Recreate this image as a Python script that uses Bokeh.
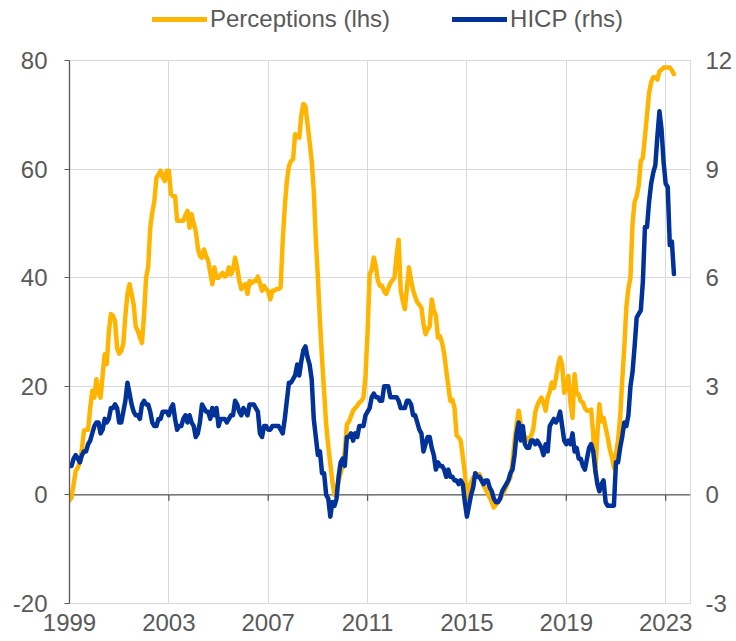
import numpy as np
from bokeh.plotting import figure
from bokeh.layouts import column
from bokeh.models import (ColumnDataSource, Range1d, LinearAxis, FixedTicker,
                          Span, Legend, LegendItem)
from bokeh.embed import file_html
from bokeh.resources import INLINE

# ---------------- data (monthly, Jan 1999 - May 2023) ----------------
start_year = 1999

perceptions = (
    [-1.0, -0.5, 2.0, 4.4, 5.0, 6.0, 8.5, 11.8, 12.0, 12.0, 16.0, 19.2]          # 1999
    + [17.9, 21.3, 19.0, 17.9, 22.0, 25.9, 24.1, 30.0, 33.3, 33.0, 32.0, 27.0]   # 2000
    + [26.0, 26.5, 27.8, 33.0, 37.0, 38.8, 37.0, 35.0, 31.0, 30.2, 29.0, 28.0]   # 2001
    + [33.0, 40.0, 41.9, 49.2, 52.0, 54.1, 58.4, 59.0, 59.7, 58.5, 57.8, 59.7]   # 2002
    + [59.7, 55.4, 55.0, 55.0, 50.5, 50.5, 50.5, 50.5, 51.5, 52.3, 49.2, 51.7]   # 2003
    + [50.0, 48.6, 45.5, 44.0, 43.7, 45.2, 44.0, 43.1, 41.0, 38.8, 41.9, 40.0]   # 2004
    + [40.0, 40.5, 40.9, 40.2, 40.5, 41.9, 40.6, 41.5, 43.7, 41.9, 39.5, 37.9]   # 2005
    + [38.5, 38.8, 37.0, 39.4, 39.0, 39.4, 39.4, 40.2, 39.0, 37.6, 38.5, 37.9]   # 2006
    + [37.5, 36.0, 37.6, 37.6, 37.9, 37.9, 38.2, 46.8, 53.0, 57.8, 60.5, 61.5]   # 2007
    + [61.8, 66.4, 66.0, 65.8, 70.0, 72.0, 71.5, 68.3, 65.0, 61.5, 56.0, 47.0]   # 2008
    + [40.0, 32.0, 25.0, 19.0, 13.0, 9.0, 5.7, 2.5, 0.0, 0.8, 2.6, 4.0]          # 2009
    + [5.5, 8.0, 13.0, 13.5, 14.5, 15.5, 16.0, 16.4, 17.0, 17.3, 17.9, 22.0]     # 2010
    + [30.0, 40.6, 41.5, 43.7, 42.0, 39.4, 38.5, 38.5, 37.5, 37.0, 38.0, 39.0]   # 2011
    + [39.5, 40.0, 44.0, 47.0, 37.7, 35.7, 34.2, 38.0, 41.9, 39.5, 37.7, 36.5]   # 2012
    + [35.5, 35.0, 34.5, 31.5, 29.6, 30.5, 31.0, 36.0, 34.0, 33.0, 29.0, 29.2]   # 2013
    + [28.0, 26.0, 23.0, 20.0, 17.3, 17.5, 16.0, 11.0, 10.6, 10.0, 7.0, 4.0]     # 2014
    + [-0.5, 1.3, 2.3, 3.2, 3.5, 3.8, 3.8, 3.0, 1.8, 1.0, 0.3, -0.5]             # 2015
    + [-1.3, -2.3, -1.8, -1.2, -0.8, 0.0, 0.7, 1.5, 2.5, 3.2, 6.0, 9.9]          # 2016
    + [13.0, 15.5, 13.0, 11.5, 10.6, 10.5, 9.9, 11.0, 12.0, 15.2, 16.5, 17.3]    # 2017
    + [17.9, 17.0, 15.5, 17.9, 19.0, 20.7, 19.7, 21.5, 23.8, 25.3, 24.0, 18.8]   # 2018
    + [20.0, 21.9, 17.0, 14.2, 22.2, 18.6, 18.5, 17.3, 17.0, 16.0, 15.5, 15.5]   # 2019
    + [15.7, 11.2, 4.0, 11.0, 16.7, 13.5, 14.2, 12.4, 10.6, 8.5, 7.0, 5.0]       # 2020
    + [7.5, 10.0, 14.2, 21.0, 27.0, 34.5, 38.0, 40.0, 50.0, 54.0, 55.0, 57.0]    # 2021
    + [61.5, 62.1, 66.0, 70.0, 74.0, 76.0, 76.9, 76.9, 76.5, 78.0, 78.3, 78.7]   # 2022
    + [78.7, 78.7, 78.7, 78.2, 77.5]                                             # 2023
)

hicp = (
    [0.8, 0.8, 1.0, 1.1, 1.0, 0.9, 1.1, 1.2, 1.2, 1.4, 1.5, 1.7]        # 1999
    + [1.9, 2.0, 2.0, 1.7, 1.8, 2.1, 2.0, 2.1, 2.4, 2.4, 2.5, 2.4]      # 2000
    + [2.0, 2.0, 2.3, 2.6, 3.1, 2.8, 2.5, 2.3, 2.2, 2.2, 2.1, 2.5]      # 2001
    + [2.6, 2.5, 2.5, 2.3, 2.0, 1.9, 1.9, 2.1, 2.1, 2.3, 2.3, 2.3]      # 2002
    + [2.2, 2.4, 2.5, 2.1, 1.8, 1.9, 1.9, 2.1, 2.2, 2.0, 2.2, 2.0]      # 2003
    + [1.9, 1.6, 1.7, 2.0, 2.5, 2.4, 2.3, 2.3, 2.1, 2.4, 2.2, 2.4]      # 2004
    + [1.9, 2.1, 2.1, 2.1, 2.0, 2.1, 2.2, 2.2, 2.6, 2.5, 2.3, 2.2]      # 2005
    + [2.4, 2.3, 2.2, 2.5, 2.5, 2.5, 2.4, 2.3, 1.7, 1.6, 1.9, 1.9]      # 2006
    + [1.8, 1.8, 1.9, 1.9, 1.9, 1.9, 1.8, 1.7, 2.1, 2.6, 3.1, 3.1]      # 2007
    + [3.2, 3.3, 3.6, 3.3, 3.7, 4.0, 4.1, 3.8, 3.6, 3.2, 2.1, 1.6]      # 2008
    + [1.1, 1.2, 0.6, 0.6, 0.0, -0.1, -0.6, -0.2, -0.3, -0.1, 0.5, 0.9] # 2009
    + [1.0, 0.8, 1.6, 1.6, 1.7, 1.5, 1.7, 1.6, 1.9, 1.9, 1.9, 2.2]      # 2010
    + [2.3, 2.4, 2.7, 2.8, 2.7, 2.7, 2.6, 2.6, 3.0, 3.0, 3.0, 2.7]      # 2011
    + [2.7, 2.7, 2.7, 2.6, 2.4, 2.4, 2.4, 2.6, 2.6, 2.5, 2.2, 2.2]      # 2012
    + [2.0, 1.8, 1.7, 1.2, 1.4, 1.6, 1.6, 1.3, 1.1, 0.7, 0.9, 0.8]      # 2013
    + [0.8, 0.7, 0.5, 0.7, 0.5, 0.5, 0.4, 0.4, 0.3, 0.4, 0.3, -0.2]     # 2014
    + [-0.6, -0.3, 0.0, 0.2, 0.6, 0.5, 0.5, 0.4, 0.3, 0.4, 0.4, 0.2]    # 2015
    + [0.1, -0.1, -0.2, -0.2, -0.1, 0.1, 0.2, 0.3, 0.4, 0.6, 0.7, 1.1]  # 2016
    + [1.7, 2.0, 1.5, 1.9, 1.4, 1.3, 1.3, 1.5, 1.5, 1.4, 1.5, 1.4]      # 2017
    + [1.3, 1.1, 1.4, 1.2, 1.9, 2.0, 2.1, 2.0, 2.1, 2.3, 1.9, 1.5]      # 2018
    + [1.4, 1.5, 1.4, 1.7, 1.2, 1.3, 1.0, 1.0, 0.8, 0.7, 1.0, 1.3]      # 2019
    + [1.4, 1.2, 0.7, 0.3, 0.1, 0.3, 0.4, -0.2, -0.3, -0.3, -0.3, -0.3] # 2020
    + [0.9, 0.9, 1.3, 1.6, 2.0, 1.9, 2.2, 3.0, 3.4, 4.1, 4.9, 5.0]      # 2021
    + [5.1, 5.9, 7.4, 7.4, 8.1, 8.6, 8.9, 9.1, 9.9, 10.6, 10.1, 9.2]    # 2022
    + [8.6, 8.5, 6.9, 7.0, 6.1]                                         # 2023
)

x_tick_years = [1999, 2003, 2007, 2011, 2015, 2019, 2023]
left_ticks = [-20, 0, 20, 40, 60, 80]
right_ticks = [-3, 0, 3, 6, 9, 12]
series_labels = ["Perceptions (lhs)", "HICP (rhs)"]

# ---------------- styling ----------------
ORANGE = "#FFB400"
BLUE = "#003299"
TEXT = "#595959"
GRID = "#d9d9d9"
FONT = "Liberation Sans"
FS = "24px"
LW = 4.5

dates = start_year + np.arange(len(perceptions)) / 12.0
source = ColumnDataSource(dict(x=dates, perc=perceptions, hicp=hicp))

p = figure(width=736, height=601,
           x_range=Range1d(1999, 2024), y_range=Range1d(-20, 80),
           output_backend="svg", toolbar_location=None,
           min_border_left=69, min_border_right=46,
           min_border_top=20, min_border_bottom=38,
           background_fill_color="white", border_fill_color="white")
p.extra_y_ranges = {"rhs": Range1d(-3, 12)}
p.outline_line_color = GRID

# grids
p.xgrid.ticker = FixedTicker(ticks=x_tick_years)
p.ygrid.ticker = FixedTicker(ticks=left_ticks)
p.xgrid.grid_line_color = GRID
p.ygrid.grid_line_color = GRID

# zero line (category axis crossing at 0) with its ticks
zero = Span(location=0, dimension="width", line_color=TEXT, line_width=1.3,
            level="underlay")
p.add_layout(zero)
p.segment(x0=x_tick_years, y0=[0] * len(x_tick_years),
          x1=x_tick_years, y1=[-1.1] * len(x_tick_years),
          line_color=TEXT, line_width=1.3)

r1 = p.line("x", "perc", source=source, line_color=ORANGE, line_width=LW,
            line_join="round", line_cap="round")
r2 = p.line("x", "hicp", source=source, y_range_name="rhs", line_color=BLUE,
            line_width=LW, line_join="round", line_cap="round")

# bottom axis: labels only
xa = p.xaxis[0]
xa.ticker = FixedTicker(ticks=x_tick_years)
xa.axis_line_color = None
xa.major_tick_line_color = None
xa.minor_tick_line_color = None
xa.major_tick_out = 0
xa.major_tick_in = 0
xa.major_label_standoff = 10
xa.major_label_text_font = FONT
xa.major_label_text_font_size = FS
xa.major_label_text_color = TEXT

# left axis
ya = p.yaxis[0]
ya.ticker = FixedTicker(ticks=left_ticks)
ya.axis_line_color = TEXT
ya.axis_line_width = 1.3
ya.major_tick_line_color = TEXT
ya.major_tick_out = 5
ya.major_tick_in = 0
ya.minor_tick_line_color = None
ya.major_label_standoff = 17
ya.major_label_text_font = FONT
ya.major_label_text_font_size = FS
ya.major_label_text_color = TEXT
ya.major_label_overrides = {t: str(t) for t in left_ticks if t < 0}

# right axis
ra = LinearAxis(y_range_name="rhs", ticker=FixedTicker(ticks=right_ticks),
                axis_line_color=None, major_tick_line_color=None,
                minor_tick_line_color=None, major_tick_out=0, major_tick_in=0,
                major_label_standoff=15, major_label_text_font=FONT,
                major_label_text_font_size=FS, major_label_text_color=TEXT,
                major_label_overrides={t: str(t) for t in right_ticks if t < 0})
p.add_layout(ra, "right")

# ---------------- legend strip above the chart ----------------
# (its frame is aligned by the column layout with the chart frame below)
lg = figure(width=736, height=40, x_range=Range1d(0, 1), y_range=Range1d(0, 1),
            output_backend="svg", toolbar_location=None,
            x_axis_location=None, y_axis_location=None,
            min_border_left=0, min_border_right=0,
            min_border_top=0, min_border_bottom=0,
            outline_line_color=None, background_fill_color="white",
            border_fill_color="white")
lg.xgrid.visible = False
lg.ygrid.visible = False
# same series, drawn outside this strip's ranges: only their legend glyphs show
d1 = lg.line("x", "perc", source=source, line_color=ORANGE, line_width=LW + 0.5,
             line_cap="round")
d2 = lg.line("x", "hicp", source=source, line_color=BLUE, line_width=LW + 0.5,
             line_cap="round")

legend = Legend(items=[LegendItem(label=series_labels[0], renderers=[d1]),
                       LegendItem(label=series_labels[1], renderers=[d2])],
                orientation="horizontal", location=(83, 7),
                glyph_width=55, glyph_height=24, label_height=24,
                label_standoff=3, spacing=62, padding=0, margin=0,
                border_line_color=None, background_fill_alpha=0,
                label_text_font=FONT, label_text_font_size=FS,
                label_text_color=TEXT)
lg.add_layout(legend, "center")

layout = column(lg, p, spacing=0)
open("out.html", "w").write(file_html(layout, INLINE))
